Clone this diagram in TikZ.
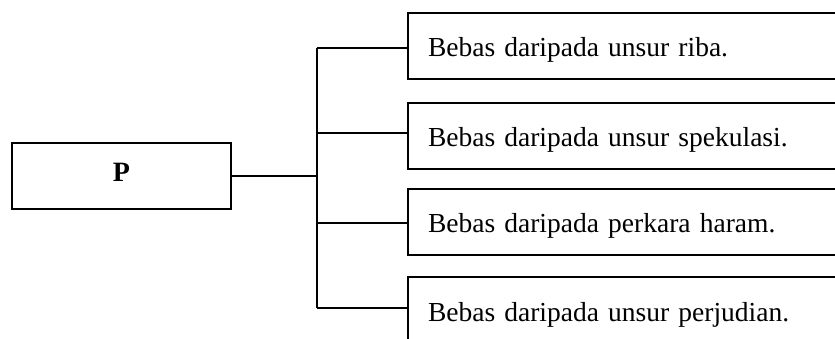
\documentclass[tikz,border=0pt]{standalone}
\usepackage{fontspec}
\setmainfont{Liberation Serif}
\begin{document}
\begin{tikzpicture}[x=1pt,y=-1pt,
  pbox/.style={draw, line width=2pt, rectangle, minimum width=219pt, minimum height=66pt, inner sep=0pt,
    font=\fontsize{28}{30}\selectfont\bfseries, text height=19pt, text depth=8pt},
  itembox/.style={draw, line width=2pt, rectangle, anchor=north west, minimum width=450pt, minimum height=66pt,
    inner xsep=20pt, inner ysep=0pt, text width=410pt, align=left,
    font=\fontsize{27.5}{30}\selectfont, text height=27pt, text depth=5pt},
  conn/.style={draw, line width=2pt}
]
\useasboundingbox (0,0) rectangle (835,339);
\clip (0,0) rectangle (835,339);
\fill[white] (0,0) rectangle (835,339);
\node[pbox] (P) at (121.5,176) {P};
\node[itembox] (b1) at (407,12) {Bebas daripada unsur riba.};
\node[itembox] (b2) at (407,102) {Bebas daripada unsur spekulasi.};
\node[itembox] (b3) at (407,188) {Bebas daripada perkara haram.};
\node[itembox] (b4) at (407,276) {Bebas daripada unsur perjudian.};
\coordinate (t1) at (317,48);
\coordinate (t2) at (317,133);
\coordinate (t3) at (317,223);
\coordinate (t4) at (317,308);
\draw[conn] (P.east) -- (P.east -| t1);
\draw[conn] (t1) -- (t4);
\draw[conn] (t1) -- (t1 -| b1.west);
\draw[conn] (t2) -- (t2 -| b2.west);
\draw[conn] (t3) -- (t3 -| b3.west);
\draw[conn] (t4) -- (t4 -| b4.west);
\end{tikzpicture}
\end{document}
